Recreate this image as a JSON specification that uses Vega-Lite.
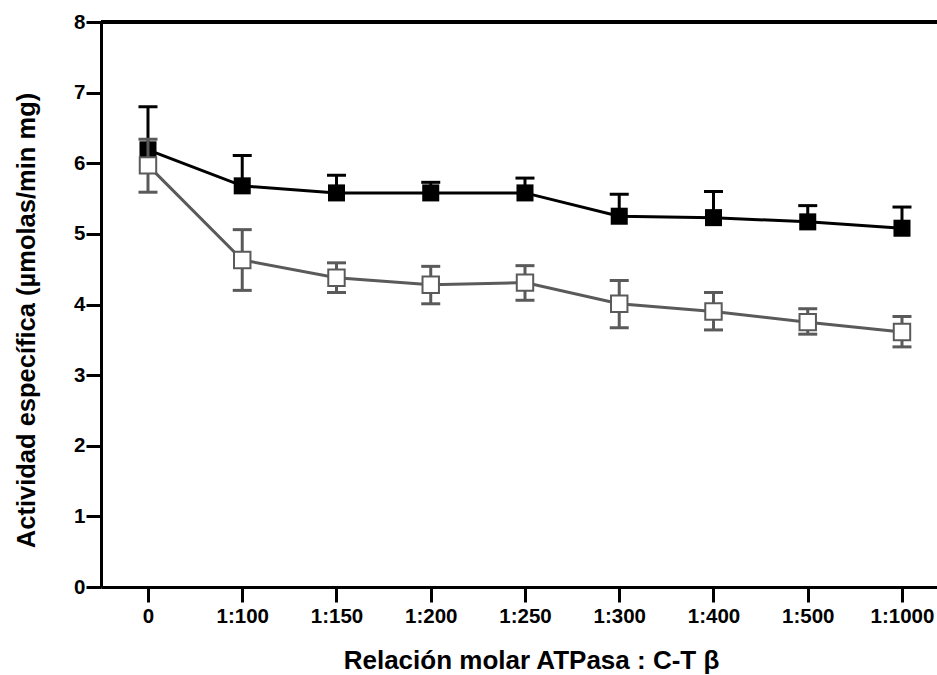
{
  "$schema": "https://vega.github.io/schema/vega-lite/v6.json",
  "autosize": "none",
  "padding": {"left": 101, "top": 22, "right": 0, "bottom": 88},
  "width": 836,
  "height": 565,
  "background": "white",
  "config": {
    "view": {"stroke": null},
    "font": "Liberation Sans",
    "axis": {
      "domainColor": "black",
      "domainWidth": 3,
      "tickColor": "black",
      "tickWidth": 3,
      "tickSize": 15,
      "grid": false
    }
  },
  "data": {
    "values": [
      {"ratio": "0", "serie": "negro", "v": 6.19, "lo": 6.19, "hi": 6.80},
      {"ratio": "1:100", "serie": "negro", "v": 5.68, "lo": 5.68, "hi": 6.11},
      {"ratio": "1:150", "serie": "negro", "v": 5.58, "lo": 5.58, "hi": 5.83},
      {"ratio": "1:200", "serie": "negro", "v": 5.58, "lo": 5.58, "hi": 5.73},
      {"ratio": "1:250", "serie": "negro", "v": 5.58, "lo": 5.58, "hi": 5.79},
      {"ratio": "1:300", "serie": "negro", "v": 5.25, "lo": 5.25, "hi": 5.56},
      {"ratio": "1:400", "serie": "negro", "v": 5.23, "lo": 5.23, "hi": 5.60},
      {"ratio": "1:500", "serie": "negro", "v": 5.17, "lo": 5.17, "hi": 5.40},
      {"ratio": "1:1000", "serie": "negro", "v": 5.08, "lo": 5.08, "hi": 5.38},
      {"ratio": "0", "serie": "blanco", "v": 5.97, "lo": 5.59, "hi": 6.34},
      {"ratio": "1:100", "serie": "blanco", "v": 4.63, "lo": 4.20, "hi": 5.06},
      {"ratio": "1:150", "serie": "blanco", "v": 4.38, "lo": 4.17, "hi": 4.59},
      {"ratio": "1:200", "serie": "blanco", "v": 4.28, "lo": 4.01, "hi": 4.54},
      {"ratio": "1:250", "serie": "blanco", "v": 4.31, "lo": 4.06, "hi": 4.55},
      {"ratio": "1:300", "serie": "blanco", "v": 4.01, "lo": 3.67, "hi": 4.34},
      {"ratio": "1:400", "serie": "blanco", "v": 3.90, "lo": 3.64, "hi": 4.17},
      {"ratio": "1:500", "serie": "blanco", "v": 3.75, "lo": 3.58, "hi": 3.94},
      {"ratio": "1:1000", "serie": "blanco", "v": 3.61, "lo": 3.40, "hi": 3.83}
    ]
  },
  "encoding": {
    "x": {
      "field": "ratio",
      "type": "ordinal",
      "sort": ["0", "1:100", "1:150", "1:200", "1:250", "1:300", "1:400", "1:500", "1:1000"],
      "scale": {"type": "point", "padding": 0.435, "align": 0.573},
      "axis": {
        "title": "Relación molar ATPasa : C-T β",
        "labelAngle": 0,
        "labelPadding": 4,
        "labelFont": "Liberation Sans",
        "labelFontWeight": "bold",
        "labelFontSize": 20.5,
        "labelColor": "black",
        "titleFont": "Liberation Sans",
        "titleFontWeight": "bold",
        "titleFontSize": 26,
        "titleColor": "black",
        "titlePadding": 21,
        "titleX": 430
      }
    }
  },
  "layer": [
    {
      "mark": {"type": "rule", "color": "black", "strokeWidth": 3},
      "encoding": {"x": null, "y": {"datum": 8, "type": "quantitative", "scale": {"domain": [0, 8]}}}
    },
    {
      "transform": [{"filter": "datum.serie === 'negro'"}],
      "layer": [
        {
          "mark": {"type": "line", "color": "black", "strokeWidth": 3},
          "encoding": {
            "y": {
              "field": "v",
              "type": "quantitative",
              "scale": {"domain": [0, 8]},
              "axis": {
                "title": "Actividad específica (µmolas/min mg)",
                "values": [0, 1, 2, 3, 4, 5, 6, 7, 8],
                "format": "d",
                "labelPadding": 1,
                "labelFont": "Liberation Sans",
                "labelFontWeight": "bold",
                "labelFontSize": 20.5,
                "labelColor": "black",
                "titleFont": "Liberation Sans",
                "titleFontWeight": "bold",
                "titleFontSize": 25.5,
                "titleColor": "black",
                "titlePadding": 34,
                "titleY": 298
              }
            }
          }
        },
        {
          "mark": {"type": "rule", "color": "black", "strokeWidth": 3},
          "encoding": {"y": {"field": "lo", "type": "quantitative"}, "y2": {"field": "hi"}}
        },
        {
          "mark": {"type": "tick", "color": "black", "thickness": 3, "size": 19, "opacity": 1},
          "encoding": {"y": {"field": "hi", "type": "quantitative"}}
        },
        {
          "mark": {"type": "square", "color": "black", "filled": true, "size": 290, "opacity": 1},
          "encoding": {"y": {"field": "v", "type": "quantitative"}}
        }
      ]
    },
    {
      "transform": [{"filter": "datum.serie === 'blanco'"}],
      "layer": [
        {
          "mark": {"type": "line", "color": "#5a5a5a", "strokeWidth": 3},
          "encoding": {"y": {"field": "v", "type": "quantitative"}}
        },
        {
          "mark": {"type": "rule", "color": "#5a5a5a", "strokeWidth": 3},
          "encoding": {"y": {"field": "lo", "type": "quantitative"}, "y2": {"field": "hi"}}
        },
        {
          "mark": {"type": "tick", "color": "#5a5a5a", "thickness": 3, "size": 19, "opacity": 1},
          "encoding": {"y": {"field": "hi", "type": "quantitative"}}
        },
        {
          "mark": {"type": "tick", "color": "#5a5a5a", "thickness": 3, "size": 19, "opacity": 1},
          "encoding": {"y": {"field": "lo", "type": "quantitative"}}
        },
        {
          "mark": {"type": "square", "fill": "white", "stroke": "#5a5a5a", "strokeWidth": 2, "filled": true, "size": 270, "opacity": 1},
          "encoding": {"y": {"field": "v", "type": "quantitative"}}
        }
      ]
    }
  ]
}
